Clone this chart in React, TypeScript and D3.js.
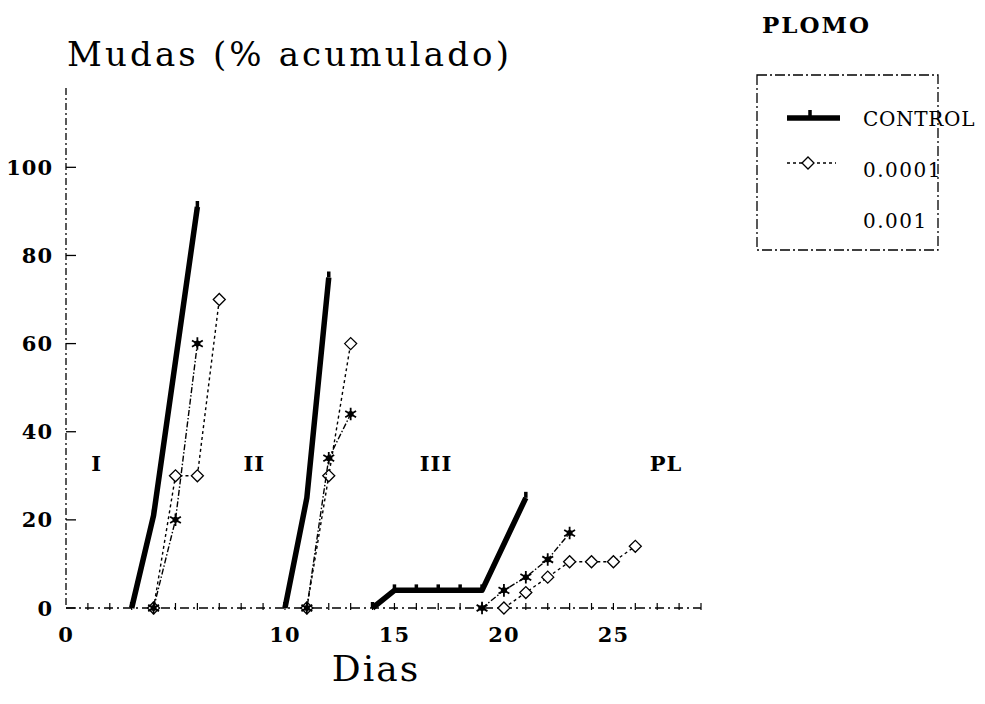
import * as d3 from 'd3'

const WIDTH = 985
const HEIGHT = 704

// days (x), accumulated molts in % (y), one array per instar
const controlI: [number, number][] = [[3, 0], [4, 21], [6, 91]]
const controlII: [number, number][] = [[10, 0], [11, 25], [12, 75]]
const controlIII: [number, number][] = [[14, 0], [15, 4], [16, 4], [17, 4], [18, 4], [19, 4], [21, 25]]

const lowI: [number, number][] = [[4, 0], [5, 30], [6, 30], [7, 70]]
const lowII: [number, number][] = [[11, 0], [12, 30], [13, 60]]
const lowIII: [number, number][] = [[20, 0], [21, 3.5], [22, 7], [23, 10.5], [24, 10.5], [25, 10.5], [26, 14]]

const highI: [number, number][] = [[4, 0], [5, 20], [6, 60]]
const highII: [number, number][] = [[11, 0], [12, 34], [13, 44]]
const highIII: [number, number][] = [[19, 0], [20, 4], [21, 7], [22, 11], [23, 17]]

const seriesNames = ['CONTROL', '0.0001', '0.001']
const xTickLabels = [0, 10, 15, 20, 25]
const yTickLabels = [0, 20, 40, 60, 80, 100]
const stageNames = ['I', 'II', 'III', 'PL']
const stageDays = [1.4, 8.6, 16.9, 27.4]

const segmentsBySeries = [
  [controlI, controlII, controlIII],
  [lowI, lowII, lowIII],
  [highI, highII, highIII],
]

const FONT = '"DejaVu Serif", "Liberation Serif", serif'

const lineStyles = [
  { width: 5.5, dash: undefined as string | undefined },
  { width: 1.4, dash: '3,3' },
  { width: 1.4, dash: '6,2,1.5,2' },
]

const Marker = ({ kind, cx, cy }: { kind: number; cx: number; cy: number }) => {
  if (kind === 0) {
    return <path d={`M${cx},${cy}L${cx},${cy - 6}`} stroke="#000" strokeWidth={3.5} />
  }
  if (kind === 1) {
    return (
      <path
        d="M-6,0L0,-6L6,0L0,6Z"
        transform={`translate(${cx},${cy})`}
        fill="#fff"
        stroke="#000"
        strokeWidth={1.3}
      />
    )
  }
  return (
    <g transform={`translate(${cx},${cy})`}>
      <path d={d3.symbol(d3.symbolAsterisk, 110)() || ''} fill="none" stroke="#000" strokeWidth={1.8} />
      <circle r={3} fill="#000" />
    </g>
  )
}

export default function App() {
  const x = d3.scaleLinear().domain([0, 29]).range([66, 701])
  const y = d3.scaleLinear().domain([0, 118]).range([608, 88])

  const line = d3
    .line<[number, number]>()
    .x((d) => x(d[0]))
    .y((d) => y(d[1]))

  const dayTicks = d3.range(1, 30)

  return (
    <div style={{ position: 'absolute', left: 0, top: 0 }}>
      <svg width={WIDTH} height={HEIGHT} style={{ display: 'block', background: '#fff' }} fontFamily={FONT}>
        {/* title */}
        <text x={67} y={66} fontSize={34} textLength={442} lengthAdjust="spacing">
          Mudas (% acumulado)
        </text>

        {/* y axis */}
        <line x1={x(0)} x2={x(0)} y1={y(118)} y2={y(0)} stroke="#000" strokeWidth={1.3} strokeDasharray="7,3,2,3" />
        {yTickLabels.map((t) => (
          <g key={t}>
            <line x1={x(0)} x2={x(0) + 10} y1={y(t)} y2={y(t)} stroke="#000" strokeWidth={1.3} />
            <text x={53} y={y(t)} dy="0.36em" textAnchor="end" fontSize={21} fontWeight="bold" letterSpacing={1}>
              {t}
            </text>
          </g>
        ))}

        {/* x axis */}
        <line x1={x(0)} x2={x(29)} y1={y(0)} y2={y(0)} stroke="#000" strokeWidth={1.3} strokeDasharray="9,4,2,4" />
        {dayTicks.map((d) => (
          <line key={d} x1={x(d)} x2={x(d)} y1={y(0) - 5} y2={y(0) + 2} stroke="#000" strokeWidth={1.2} />
        ))}
        {xTickLabels.map((t) => (
          <text key={t} x={x(t)} y={642} textAnchor="middle" fontSize={21} fontWeight="bold" letterSpacing={1}>
            {t}
          </text>
        ))}
        <text x={376} y={681} textAnchor="middle" fontSize={36} letterSpacing={2}>
          Dias
        </text>

        {/* stage labels */}
        {stageNames.map((s, i) => (
          <text key={s} x={x(stageDays[i])} y={y(31)} textAnchor="middle" fontSize={21} fontWeight="bold" letterSpacing={1}>
            {s}
          </text>
        ))}

        {/* series */}
        {segmentsBySeries.map((segs, si) => (
          <g key={seriesNames[si]}>
            {segs.map((seg, k) => (
              <path
                key={k}
                d={line(seg) || ''}
                fill="none"
                stroke="#000"
                strokeWidth={lineStyles[si].width}
                strokeDasharray={lineStyles[si].dash}
                strokeLinejoin="round"
              />
            ))}
            {segs.map((seg, k) =>
              seg.map((p, j) => <Marker key={`${k}-${j}`} kind={si} cx={x(p[0])} cy={y(p[1])} />)
            )}
          </g>
        ))}

        {/* legend */}
        <text x={762} y={33} fontSize={23} fontWeight="bold" letterSpacing={2}>
          PLOMO
        </text>
        <rect x={757} y={75} width={181} height={175} fill="none" stroke="#000" strokeWidth={1.3} strokeDasharray="10,3,2,3" />
        <line x1={787} x2={840} y1={118} y2={118} stroke="#000" strokeWidth={5.5} />
        <Marker kind={0} cx={810} cy={116} />
        <line x1={787} x2={836} y1={163} y2={163} stroke="#000" strokeWidth={1.4} strokeDasharray="3,3" />
        <Marker kind={1} cx={808} cy={163} />
        {seriesNames.map((n, i) => (
          <text key={n} x={863} y={126 + i * 51} fontSize={20} letterSpacing={1.5} textLength={n === 'CONTROL' ? 113 : undefined}>
            {n}
          </text>
        ))}
      </svg>
    </div>
  )
}
